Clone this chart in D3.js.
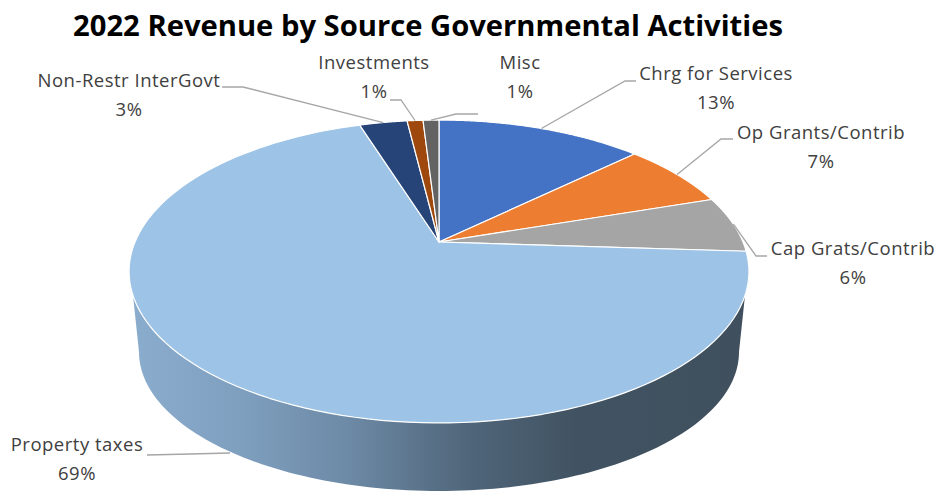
<!DOCTYPE html>
<html>
<head>
<meta charset="utf-8">
<style>
  html, body { margin: 0; padding: 0; background: #fff; }
  svg { display: block; }
  text { font-family: "Open Sans", sans-serif; }
</style>
<script src="https://cdn.jsdelivr.net/npm/d3@7/dist/d3.min.js"></script>
</head>
<body>
<svg id="chart" width="939" height="496"></svg>
<script>
// Revenue sources, clockwise from twelve o'clock
const categories = ["Chrg for Services", "Op Grants/Contrib", "Cap Grats/Contrib",
                    "Property taxes", "Non-Restr InterGovt", "Investments", "Misc"];
const shares = [13, 7, 6, 69, 3, 1, 1];
const colors = ["#4472c4", "#ed7d31", "#a5a5a5", "#9dc3e6", "#264478", "#9e480e", "#636363"];
const title = "2022 Revenue by Source Governmental Activities";

// Label anchor (centre x, first baseline y) and the elbow of each leader line
const labelSpots = [
  { x: 716, y: 80,  elbow: [[636, 81], [625, 81]] },
  { x: 821, y: 139, elbow: [[733, 139], [721, 139]] },
  { x: 853, y: 255, elbow: [[767, 256], [756, 256]] },
  { x: 77,  y: 451, elbow: [[147, 455], [190, 454]] },
  { x: 129, y: 87,  elbow: [[222, 87], [243, 87]] },
  { x: 374, y: 69,  elbow: [[390, 100], [401, 100]] },
  { x: 520, y: 69,  elbow: [[478, 114], [456, 114]] }
];

const svg = d3.select("#chart");

// Perspective view of the disc: its centre sits above the middle of the visible ellipse
const apex = { x: 439, y: 242 };
const tilt = 0.1947, spanX = 304, spanY = 145.7;
const project = angle => {
  const u = Math.sin(angle), v = -Math.cos(angle), d = 1 - tilt * v;
  return [apex.x + spanX * u / d, apex.y + spanY * v / d];
};
// Outline of the underside of the disc, slightly narrower and further away
const under = { cx: 439, cy: 352, rx: 300, ry: 139 };
const projectUnder = angle => [under.cx + under.rx * Math.sin(angle), under.cy - under.ry * Math.cos(angle)];

const slices = d3.pie().sort(null).value(d => d)(shares);
const line = d3.line();
const samples = (a0, a1, fn, n = 120) => d3.range(n + 1).map(i => fn(a0 + (a1 - a0) * i / n));

// Wall below the front rim
const defs = svg.append("defs");
const wallGradient = defs.append("linearGradient")
  .attr("id", "wallShade").attr("gradientUnits", "userSpaceOnUse")
  .attr("x1", 130).attr("x2", 750).attr("y1", 0).attr("y2", 0);
[[0, "#8badcd"], [0.18, "#7f9fbf"], [0.35, "#6d8aa6"], [0.55, "#4f6579"], [0.72, "#415362"], [1, "#3f4f5e"]]
  .forEach(([o, c]) => wallGradient.append("stop").attr("offset", o).attr("stop-color", c));

const rimStart = (Math.PI / 2) + 0.14, rimEnd = (3 * Math.PI / 2) - 0.14;
const wallPath = samples(rimStart, rimEnd, project)
  .concat(samples(3 * Math.PI / 2, Math.PI / 2, projectUnder));
svg.append("path")
  .attr("d", line(wallPath) + "Z")
  .attr("fill", "url(#wallShade)");

// Slices of the top face
svg.append("g").selectAll("path").data(slices).join("path")
  .attr("d", s => line([[apex.x, apex.y], ...samples(s.startAngle, s.endAngle, project)]) + "Z")
  .attr("fill", (s, i) => colors[i])
  .attr("stroke", "#fff")
  .attr("stroke-width", 1.2)
  .attr("stroke-linejoin", "round");

// Leader lines run from the label to the middle of the slice's rim
const leaders = svg.append("g").attr("fill", "none").attr("stroke", "#a6a6a6").attr("stroke-width", 1.3);
slices.forEach((s, i) => {
  const mid = (s.startAngle + s.endAngle) / 2;
  const onWall = categories[i] === "Property taxes";
  const end = onWall ? [230, 453] : project(mid);
  leaders.append("path").attr("d", line([...labelSpots[i].elbow, end]));
});

// Two-line labels: name, then share
const labels = svg.append("g").attr("fill", "#404040").attr("font-size", 18.5)
  .attr("letter-spacing", 0.5).attr("text-anchor", "middle");
categories.forEach((name, i) => {
  const spot = labelSpots[i];
  const t = labels.append("text").attr("x", spot.x).attr("y", spot.y);
  t.append("tspan").attr("x", spot.x).text(name);
  t.append("tspan").attr("x", spot.x).attr("dy", 28.5).text(d3.format("d")(shares[i]) + "%");
});

svg.append("text")
  .attr("x", 428).attr("y", 36)
  .attr("text-anchor", "middle")
  .attr("font-size", 29.2).attr("font-weight", 700).attr("fill", "#000")
  .text(title);
</script>
</body>
</html>
